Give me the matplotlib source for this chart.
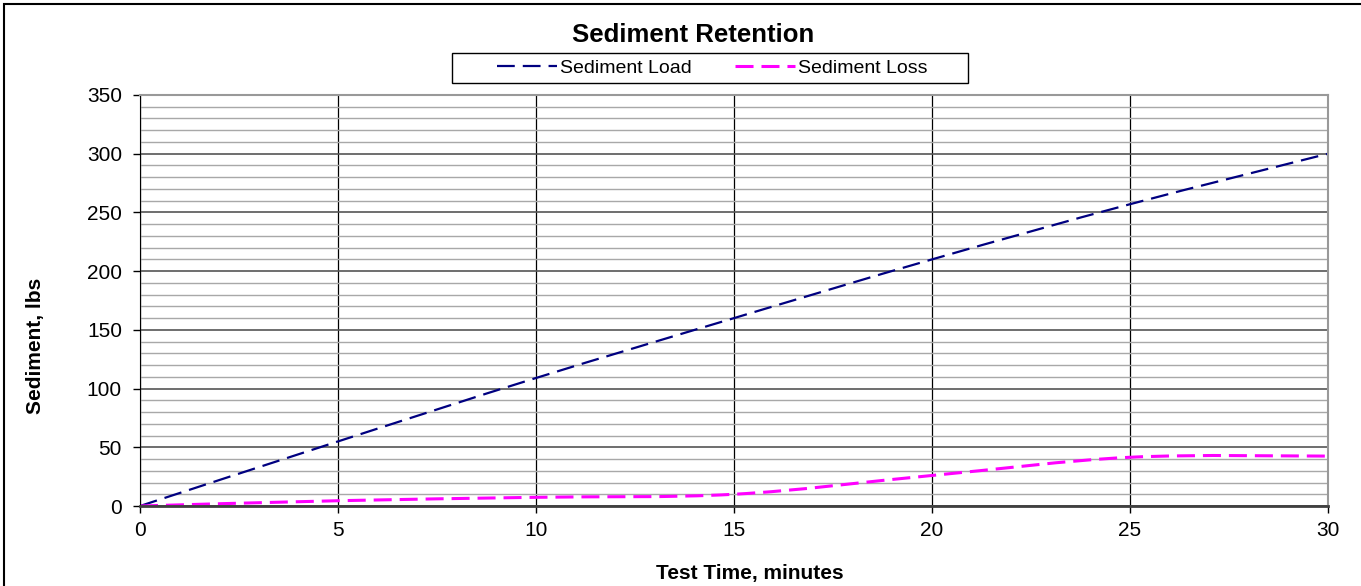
import numpy as np
import matplotlib
matplotlib.use("Agg")
import matplotlib.pyplot as plt
from matplotlib.path import Path
from matplotlib.patches import PathPatch, Rectangle
from matplotlib.lines import Line2D

plt.rcParams['font.family'] = ['Liberation Sans', 'DejaVu Sans']

# data
test_time = [0, 5, 10, 15, 20, 25, 30]
sediment_load = [0, 55, 109, 160, 210, 257, 300]
sediment_loss = [0, 4.5, 7.4, 10, 26, 41.5, 42.5]

load_color = '#000080'
loss_color = '#FF00FF'


def smooth_path(xs, ys):
    # Excel-style smoothed line: cubic bezier through each point
    pts = np.column_stack([xs, ys]).astype(float)
    n = len(pts)
    verts = [pts[0]]
    codes = [Path.MOVETO]
    for i in range(n - 1):
        p0 = pts[i - 1] if i > 0 else pts[i]
        p1 = pts[i]
        p2 = pts[i + 1]
        p3 = pts[i + 2] if i + 2 < n else pts[i + 1]
        c1 = p1 + (p2 - p0) / 6.0
        c2 = p2 - (p3 - p1) / 6.0
        verts += [c1, c2, p2]
        codes += [Path.CURVE4] * 3
    return Path(verts, codes)


fig = plt.figure(figsize=(13.61, 5.86), dpi=100)
W, H = 1361, 586
ax = fig.add_axes([140 / W, 1 - 506 / H, (1328 - 140) / W, (506 - 95) / H])

ax.set_xlim(0, 30)
ax.set_ylim(0, 350)
ax.set_xticks(np.arange(0, 31, 5))
ax.set_yticks(np.arange(0, 351, 50))
ax.set_yticks(np.arange(0, 351, 10), minor=True)

ax.grid(axis='y', which='minor', color='#a8a8a8', lw=1.0)
ax.grid(axis='y', which='major', color='#555555', lw=1.2)
ax.grid(axis='x', which='major', color='#000000', lw=0.9)
ax.set_axisbelow(True)

ax.tick_params(axis='both', which='major', labelsize=15, direction='out', length=5, width=1, colors='black')
ax.tick_params(axis='y', which='minor', length=0)
ax.tick_params(axis='x', pad=6)
ax.tick_params(axis='y', pad=8)

ax.spines['left'].set_color('black')
ax.spines['bottom'].set_color('#404040')
ax.spines['bottom'].set_linewidth(2)
ax.spines['top'].set_color('#999999')
ax.spines['right'].set_color('#999999')
ax.spines['top'].set_linewidth(1.5)
ax.spines['right'].set_linewidth(1.5)

styles = [(sediment_load, load_color, 1.6, (0, (8, 3.6))),
          (sediment_loss, loss_color, 2.2, (0, (5.9, 2.6)))]
for ys, col, lw, ls in styles:
    patch = PathPatch(smooth_path(test_time, ys), facecolor='none', edgecolor=col,
                      lw=lw, linestyle=ls, capstyle='butt')
    ax.add_patch(patch)

fig.text(750 / W, 1 - 573 / H, 'Test Time, minutes', ha='center', va='center',
         fontsize=15, fontweight='bold')
fig.text(35 / W, 1 - 346 / H, 'Sediment, lbs', ha='center', va='center',
         rotation=90, fontsize=15, fontweight='bold')

fig.text(693 / W, 1 - 35 / H, 'Sediment Retention', ha='center', va='center',
         fontsize=18.5, fontweight='bold')

handles = [Line2D([], [], color=load_color, lw=1.6, linestyle=(0, (8, 3.6))),
           Line2D([], [], color=loss_color, lw=2.2, linestyle=(0, (5.9, 2.6)))]
leg = fig.legend(handles, ['Sediment Load', 'Sediment Loss'], loc='center',
                 bbox_to_anchor=(712 / W, 1 - 68 / H), ncol=2, fontsize=14,
                 frameon=False, handlelength=3.1, handletextpad=0.15,
                 columnspacing=2.2, borderpad=0.2)

# legend frame
fig.patches.append(Rectangle((452 / W, 1 - 83 / H), (968 - 452) / W, 30 / H,
                             transform=fig.transFigure, fill=False, edgecolor='black', lw=1.0))

# outer chart border
fig.patches.append(Rectangle((4 / W, -0.05), 1.1, 1 - 4 / H + 0.05, transform=fig.transFigure,
                             fill=False, edgecolor='black', lw=1.5, clip_on=False))

fig.savefig('out.png', dpi=100, facecolor='white')
